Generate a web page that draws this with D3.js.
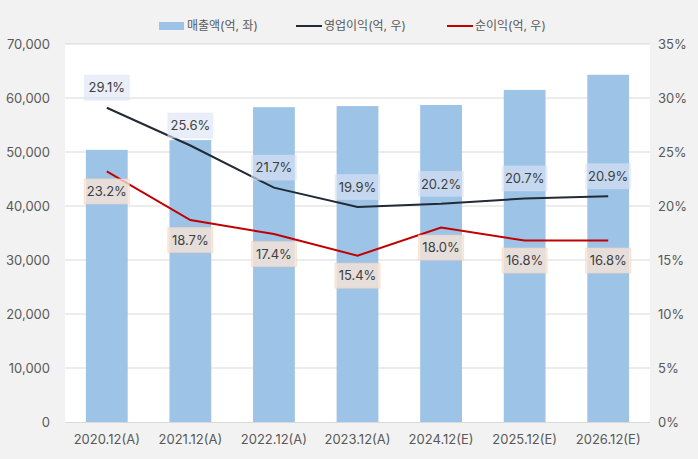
<!DOCTYPE html>
<html><head><meta charset="utf-8">
<script src="https://cdn.jsdelivr.net/npm/d3@7"></script>
<style>
html,body{margin:0;padding:0;background:#f2f2f2;}
svg{display:block;font-family:Inter,"Noto Sans CJK KR",sans-serif;}
</style></head>
<body><svg id="c" width="698" height="459"></svg>
<script>
const categories = ["2020.12(A)","2021.12(A)","2022.12(A)","2023.12(A)","2024.12(E)","2025.12(E)","2026.12(E)"];
const sales = [50400, 52200, 58300, 58500, 58700, 61500, 64300];
const opMargin = [29.1, 25.6, 21.7, 19.9, 20.2, 20.7, 20.9];
const netMargin = [23.2, 18.7, 17.4, 15.4, 18.0, 16.8, 16.8];
const leftTicks = [0,10000,20000,30000,40000,50000,60000,70000];
const rightTicks = [0,5,10,15,20,25,30,35];
const legendLabels = ["매출액(억, 좌)","영업이익(억, 우)","순이익(억, 우)"];

const svg = d3.select("#c");
const L = 65, R = 650, T = 44, B = 422;
svg.append("rect").attr("x",L).attr("y",T).attr("width",R-L).attr("height",B-T).attr("fill","#ffffff");

const x = d3.scaleBand().domain(categories).range([L,R]).paddingInner(0.5).paddingOuter(0.25);
const yL = d3.scaleLinear().domain([0,70000]).range([B,T]);
const yR = d3.scaleLinear().domain([0,35]).range([B,T]);

// gridlines
svg.append("g").selectAll("line").data(leftTicks.filter(d=>d>0)).join("line")
  .attr("x1",L).attr("x2",R).attr("y1",d=>yL(d)).attr("y2",d=>yL(d))
  .attr("stroke","#d9d9d9").attr("stroke-width",1);

// bars
svg.append("g").selectAll("rect").data(sales).join("rect")
  .attr("x",(d,i)=>x(categories[i])).attr("width",x.bandwidth())
  .attr("y",d=>yL(d)).attr("height",d=>B-yL(d)).attr("fill","#9dc3e6");

// baseline
svg.append("line").attr("x1",L).attr("x2",R).attr("y1",B+0.5).attr("y2",B+0.5).attr("stroke","#d9d9d9");

// axes
const axL = d3.axisLeft(yL).tickValues(leftTicks).tickFormat(d3.format(",")).tickSize(0).tickPadding(15);
const gL = svg.append("g").attr("transform",`translate(${L},0)`).call(axL);
const axR = d3.axisRight(yR).tickValues(rightTicks).tickFormat(d=>d+"%").tickSize(0).tickPadding(8);
const gR = svg.append("g").attr("transform",`translate(${R},0)`).call(axR);
const axB = d3.axisBottom(x).tickSize(0).tickPadding(13);
const gB = svg.append("g").attr("transform",`translate(0,${B})`).call(axB);
[gL,gR,gB].forEach(g=>{
  g.select(".domain").remove();
  g.selectAll("text").attr("font-size",13).attr("fill","#595959").attr("font-family",'Inter,"Noto Sans CJK KR",sans-serif');
});

const cx = c => x(c)+x.bandwidth()/2;
const line = d3.line().x((d,i)=>cx(categories[i])).y(d=>yR(d));
svg.append("path").datum(opMargin).attr("d",line).attr("fill","none").attr("stroke","#222a35").attr("stroke-width",2);
svg.append("path").datum(netMargin).attr("d",line).attr("fill","none").attr("stroke","#c00000").attr("stroke-width",2);

function labels(data, dy, fill, stroke){
  const g = svg.append("g").selectAll("g").data(data).join("g")
    .attr("transform",(d,i)=>`translate(${cx(categories[i])},${yR(d)+dy})`);
  g.append("rect").attr("x",-22.5).attr("y",-12.5).attr("width",45).attr("height",25)
    .attr("fill",fill).attr("stroke",stroke).attr("stroke-width",1);
  g.append("text").attr("text-anchor","middle").attr("dy","0.36em").attr("font-size",13)
    .attr("fill","#404040").text(d=>d.toFixed(1)+"%");
}
labels(opMargin, -20, "rgba(220,228,244,0.63)", "rgba(220,228,244,0.4)");
labels(netMargin, 20, "rgba(251,229,214,0.78)", "rgba(248,210,185,0.6)");

// legend
const lg = svg.append("g").attr("font-size",12).attr("fill","#595959");
const lx = [159, 296, 447];
lg.append("rect").attr("x",lx[0]).attr("y",22).attr("width",25).attr("height",8).attr("fill","#9dc3e6");
lg.append("line").attr("x1",lx[1]).attr("x2",lx[1]+26).attr("y1",26).attr("y2",26).attr("stroke","#222a35").attr("stroke-width",2);
lg.append("line").attr("x1",lx[2]).attr("x2",lx[2]+26).attr("y1",26).attr("y2",26).attr("stroke","#c00000").attr("stroke-width",2);
lg.selectAll("text").data(legendLabels).join("text")
  .attr("x",(d,i)=>lx[i]+28).attr("y",26).attr("dy","0.35em").text(d=>d);
</script></body></html>
